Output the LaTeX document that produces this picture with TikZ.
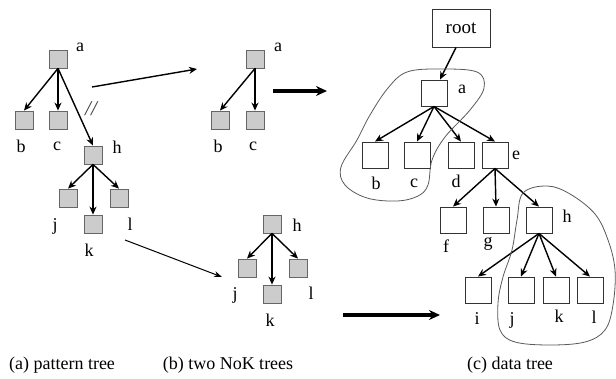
\documentclass[tikz,border=0pt]{standalone}
\usepackage{fontspec}
\setmainfont{Liberation Serif}
\usetikzlibrary{arrows.meta}
\begin{document}
\begin{tikzpicture}[x=1pt,y=-1pt,
  pbox/.style={draw=black!60,fill=black!20,minimum size=18pt,inner sep=0pt,line width=0.8pt},
  dbox/.style={draw=black!80,fill=white,minimum size=26pt,inner sep=0pt,line width=0.9pt},
  edge/.style={line width=1.4pt,-{Stealth[length=8pt,width=7pt]}},
  thin/.style={line width=1pt,-{Stealth[length=8pt,width=6pt]}},
  thick/.style={line width=4pt,-{Stealth[length=11pt,width=10pt]}},
  lab/.style={font=\fontsize{18}{20}\selectfont,anchor=base,inner sep=0pt},
  blob/.style={draw=black!65,line width=0.8pt}]
\useasboundingbox (0,0) rectangle (616,379);
% (a) pattern tree
\node[pbox] (pa) at (58,59) {};
\node[pbox] (pb) at (24,120) {};
\node[pbox] (pc) at (58,120) {};
\node[pbox] (ph) at (93,155) {};
\node[pbox] (pj) at (68,198) {};
\node[pbox] (pk) at (93,224) {};
\node[pbox] (pl) at (119,198) {};
\draw[edge] (pa.south) -- (pb.north);
\draw[edge] (pa.south) -- (pc.north);
\draw[edge] (pa.south) -- (ph.north);
\draw[edge] (ph.south) -- (pj.north);
\draw[edge] (ph.south) -- (pk.north);
\draw[edge] (ph.south) -- (pl.north);
\node[lab] (lpa) at (80,52) {a};
\node[lab] (lpb) at (21,153) {b};
\node[lab] (lpc) at (57,151) {c};
\node[lab] (lph) at (117,154) {h};
\node[lab] (lpj) at (55,231) {j};
\node[lab] (lpk) at (89,257) {k};
\node[lab] (lpl) at (130,231) {l};
\node[lab,font=\fontsize{21}{22}\selectfont\itshape,text=black!75] (dsl) at (91,116) {//};
% (b) two NoK trees
\node[pbox] (qa) at (255,59) {};
\node[pbox] (qb) at (220,120) {};
\node[pbox] (qc) at (255,120) {};
\draw[edge] (qa.south) -- (qb.north);
\draw[edge] (qa.south) -- (qc.north);
\node[lab] (lqa) at (278,52) {a};
\node[lab] (lqb) at (218,153) {b};
\node[lab] (lqc) at (253,151) {c};
\node[pbox] (rh) at (272,224) {};
\node[pbox] (rj) at (247,268) {};
\node[pbox] (rk) at (272,294) {};
\node[pbox] (rl) at (298,268) {};
\draw[edge] (rh.south) -- (rj.north);
\draw[edge] (rh.south) -- (rk.north);
\draw[edge] (rh.south) -- (rl.north);
\node[lab] (lrh) at (297,232) {h};
\node[lab] (lrj) at (235,300) {j};
\node[lab] (lrk) at (270,327) {k};
\node[lab] (lrl) at (311,300) {l};
% arrows between parts
\coordinate (t1s) at (92,87);
\coordinate (t1e) at (197,69);
\coordinate (t2s) at (125,240);
\coordinate (t2e) at (222,277);
\coordinate (k1s) at (273,91);
\coordinate (k1e) at (327,91);
\coordinate (k2s) at (343,315);
\coordinate (k2e) at (440,315);
\draw[edge] (t1s) -- (t1e);
\draw[thin] (t2s) -- (t2e);
\draw[thick] (k1s) -- (k1e);
\draw[thick] (k2s) -- (k2e);
% (c) data tree
\node[draw=black!80,line width=0.9pt,minimum width=58pt,minimum height=38pt,inner sep=0pt,font=\fontsize{19}{20}\selectfont] (root) at (461,28) {root};
\node[dbox] (da) at (434,93) {};
\node[dbox] (db) at (375,155) {};
\node[dbox] (dc) at (417,155) {};
\node[dbox] (dd) at (461,155) {};
\node[dbox] (de) at (495,155) {};
\node[dbox] (df) at (453,220) {};
\node[dbox] (dg) at (496,220) {};
\node[dbox] (dh) at (539,220) {};
\node[dbox] (di) at (478,290) {};
\node[dbox] (dj) at (521,290) {};
\node[dbox] (dk) at (556,290) {};
\node[dbox] (dl) at (590,290) {};
\draw[edge] ([xshift=-5pt]root.south) -- ([xshift=6pt]da.north);
\foreach \c in {db,dc,dd,de} \draw[edge] (da.south) -- (\c.north);
\foreach \c in {df,dg,dh} \draw[edge] (de.south) -- (\c.north);
\foreach \c in {di,dj,dk,dl} \draw[edge] (dh.south) -- (\c.north);
\node[lab] (lda) at (462,94) {a};
\node[lab] (ldb) at (376,190) {b};
\node[lab] (ldc) at (414,188) {c};
\node[lab] (ldd) at (456,188) {d};
\node[lab] (lde) at (516,160) {e};
\node[lab] (ldf) at (446,253) {f};
\node[lab] (ldg) at (488,247) {g};
\node[lab] (ldh) at (567,223) {h};
\node[lab] (ldi) at (477,325) {i};
\node[lab] (ldj) at (512,325) {j};
\node[lab] (ldk) at (559,323) {k};
\node[lab] (ldl) at (594,324) {l};
% blobs
\draw[blob] plot[smooth cycle,tension=0.6] coordinates {(407,72) (440,69) (477,72) (484,88) (470,110) (445,137) (432,160) (428,185) (418,196) (397,201) (367,198) (345,185) (341,167) (357,140) (370,115) (388,88)};
\draw[blob] plot[smooth cycle,tension=0.6] coordinates {(523,193) (547,186) (570,194) (595,214) (608,240) (615,270) (613,305) (605,330) (585,342) (550,345) (515,342) (500,330) (498,303) (503,277) (512,250) (517,220)};
% captions
\node[lab] (capa) at (62,370) {(a) pattern tree};
\node[lab] (capb) at (228,370) {(b) two NoK trees};
\node[lab] (capc) at (510,370) {(c) data tree};
\end{tikzpicture}
\end{document}
